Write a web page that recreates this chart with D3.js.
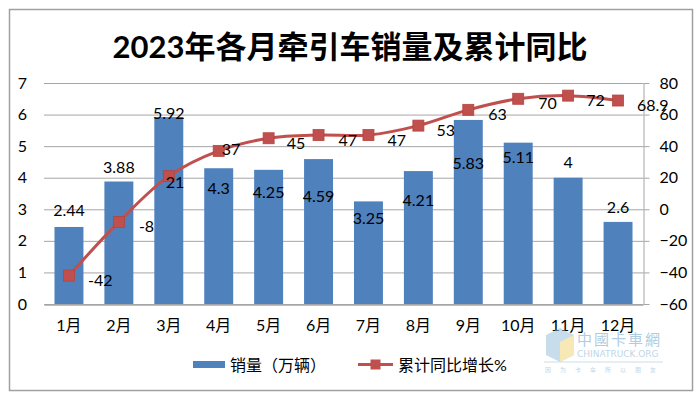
<!DOCTYPE html>
<html><head><meta charset="utf-8">
<script src="https://cdn.jsdelivr.net/npm/d3@7/dist/d3.min.js"></script>
<style>body{margin:0;background:#fff}svg{display:block}</style>
</head><body>
<svg id="c" width="700" height="397"></svg>
<script>
const months = ["1月","2月","3月","4月","5月","6月","7月","8月","9月","10月","11月","12月"];
const sales = [2.44,3.88,5.92,4.3,4.25,4.59,3.25,4.21,5.83,5.11,4,2.6];
const cumYoY = [-42,-8,21,37,45,47,47,53,63,70,72,68.9];
const cumYoYLabels = ["-42","-8","21","37","45","47","47","53","63","70","72","68.9"];
const leftTicks = [0,1,2,3,4,5,6,7];
const rightTicks = [-60,-40,-20,0,20,40,60,80];
const seriesNames = ["销量（万辆）","累计同比增长%"];
const title = "2023年各月牵引车销量及累计同比";
// label placement (layout only)
const barLabelDy = [-17,-15,-5,19,22,36,16,28,43,14,-16,-15];
const lineLabelDx = [19,20,-3,3,18,20,19,18,20,20,18,19];
const lineLabelDy = [4,4,5,-2,4,4,4,4,4,4,4,4];

const svg = d3.select("#c");
const FONT = "Lato, 'Noto Sans CJK SC', sans-serif";
const L=44, R=643, T=83, B=304;
const blue="#4F81BD", red="#C0504D";

svg.append("rect").attr("x",9.5).attr("y",9.5).attr("width",683).attr("height",381)
  .attr("fill","#fff").attr("stroke","#A0A0A0").attr("stroke-width",1.5);

svg.append("text").attr("x",350).attr("y",46).attr("text-anchor","middle")
  .attr("dominant-baseline","central").attr("font-family",FONT).attr("font-weight","bold")
  .attr("font-size",31).attr("fill","#000").text(title);

const x = d3.scaleBand().domain(months).range([L,R]).paddingInner(0.42).paddingOuter(0.21);
const y = d3.scaleLinear().domain([0,7]).range([B,T]);
const y2 = d3.scaleLinear().domain([-60,80]).range([B,T]);

// gridlines
svg.append("g").selectAll("line").data(leftTicks).join("line")
  .attr("x1",L).attr("x2",R).attr("y1",d=>y(d)+0.5).attr("y2",d=>y(d)+0.5)
  .attr("stroke","#A6A6A6").attr("stroke-width",1);

// left axis labels
const gl = svg.append("g").attr("transform",`translate(${L},0)`)
  .call(d3.axisLeft(y).tickValues(leftTicks).tickFormat(d3.format("d")).tickSize(0).tickPadding(17));
gl.select(".domain").remove();
gl.selectAll("text").attr("font-family",FONT).attr("font-size",16).attr("fill","#000");

// right axis
const gr = svg.append("g").attr("transform",`translate(${R+0.5},0)`)
  .call(d3.axisRight(y2).tickValues(rightTicks).tickFormat(d3.format("d")).tickSize(6).tickPadding(10).tickSizeOuter(0));
gr.select(".domain").attr("stroke","#A6A6A6");
gr.selectAll(".tick line").attr("stroke","#A6A6A6");
gr.selectAll("text").attr("font-family",FONT).attr("font-size",16).attr("fill","#000");

// bars
svg.append("g").selectAll("rect").data(sales).join("rect")
  .attr("x",(d,i)=>x(months[i])).attr("width",x.bandwidth())
  .attr("y",d=>y(d)).attr("height",d=>y(0)-y(d)).attr("fill",blue);

// bottom axis
const gb = svg.append("g").attr("transform",`translate(0,${B+0.5})`)
  .call(d3.axisBottom(x).tickSize(0).tickPadding(15));
gb.select(".domain").attr("stroke","#A6A6A6").attr("stroke-width",1.5);
gb.selectAll("text").attr("font-family",FONT).attr("font-size",16).attr("fill","#000");

// bar labels
svg.append("g").selectAll("text").data(sales).join("text")
  .attr("x",(d,i)=>x(months[i])+x.bandwidth()/2)
  .attr("y",(d,i)=>y(d)+barLabelDy[i])
  .attr("text-anchor","middle").attr("dominant-baseline","central")
  .attr("font-family",FONT).attr("font-size",16).attr("fill","#000")
  .text(d=>String(d));

// line
const cx = i => x(months[i])+x.bandwidth()/2;
const line = d3.line().x((d,i)=>cx(i)).y(d=>y2(d)).curve(d3.curveCatmullRom.alpha(0.5));
svg.append("path").datum(cumYoY).attr("d",line).attr("fill","none")
  .attr("stroke",red).attr("stroke-width",3);
svg.append("g").selectAll("rect").data(cumYoY).join("rect")
  .attr("x",(d,i)=>cx(i)-5.5).attr("y",d=>y2(d)-5.5).attr("width",11).attr("height",11)
  .attr("fill",red).attr("stroke","#B5443F").attr("stroke-width",0.8);
svg.append("g").selectAll("text").data(cumYoY).join("text")
  .attr("x",(d,i)=>cx(i)+lineLabelDx[i]).attr("y",(d,i)=>y2(d)+lineLabelDy[i])
  .attr("dominant-baseline","central")
  .attr("font-family",FONT).attr("font-size",16).attr("fill","#000")
  .text((d,i)=>cumYoYLabels[i]);

// legend
const lg = svg.append("g");
lg.append("rect").attr("x",193).attr("y",361).attr("width",32).attr("height",7).attr("fill",blue);
lg.append("text").attr("x",230).attr("y",364).attr("dominant-baseline","central")
  .attr("font-family",FONT).attr("font-size",16).attr("fill","#000").text(seriesNames[0]);
lg.append("line").attr("x1",358).attr("x2",393).attr("y1",364.5).attr("y2",364.5)
  .attr("stroke",red).attr("stroke-width",3);
lg.append("rect").attr("x",370.5).attr("y",359.5).attr("width",10).attr("height",10).attr("fill",red);
lg.append("text").attr("x",398).attr("y",364).attr("dominant-baseline","central")
  .attr("font-family",FONT).attr("font-size",16).attr("fill","#000").text(seriesNames[1]);

// watermark (faint)
const wm = svg.append("g").attr("opacity",0.55);
wm.append("path").attr("d","M546,335 L560,328 L574,335 L574,355 L560,362 L546,355 Z").attr("fill","#9CC3DD");
wm.append("path").attr("d","M560,342 L574,335 L574,355 L560,362 Z").attr("fill","#F3D77A");
wm.append("text").attr("x",577).attr("y",345).attr("font-family","'Noto Sans CJK SC'").attr("font-size",15)
  .attr("fill","#6FA3C8").attr("letter-spacing",2).text("中國卡車網");
wm.append("text").attr("x",577).attr("y",357).attr("font-family","'DejaVu Sans'").attr("font-size",9)
  .attr("fill","#8AB4D2").text("CHINATRUCK.ORG");
wm.append("line").attr("x1",544).attr("x2",663).attr("y1",362).attr("y2",362).attr("stroke","#9CC3DD");
wm.append("text").attr("x",545).attr("y",372).attr("font-family","'Noto Sans CJK SC'").attr("font-size",6)
  .attr("fill","#8AB4D2").attr("letter-spacing",9).text("因为卡车所以朋友");
</script>
</body></html>
